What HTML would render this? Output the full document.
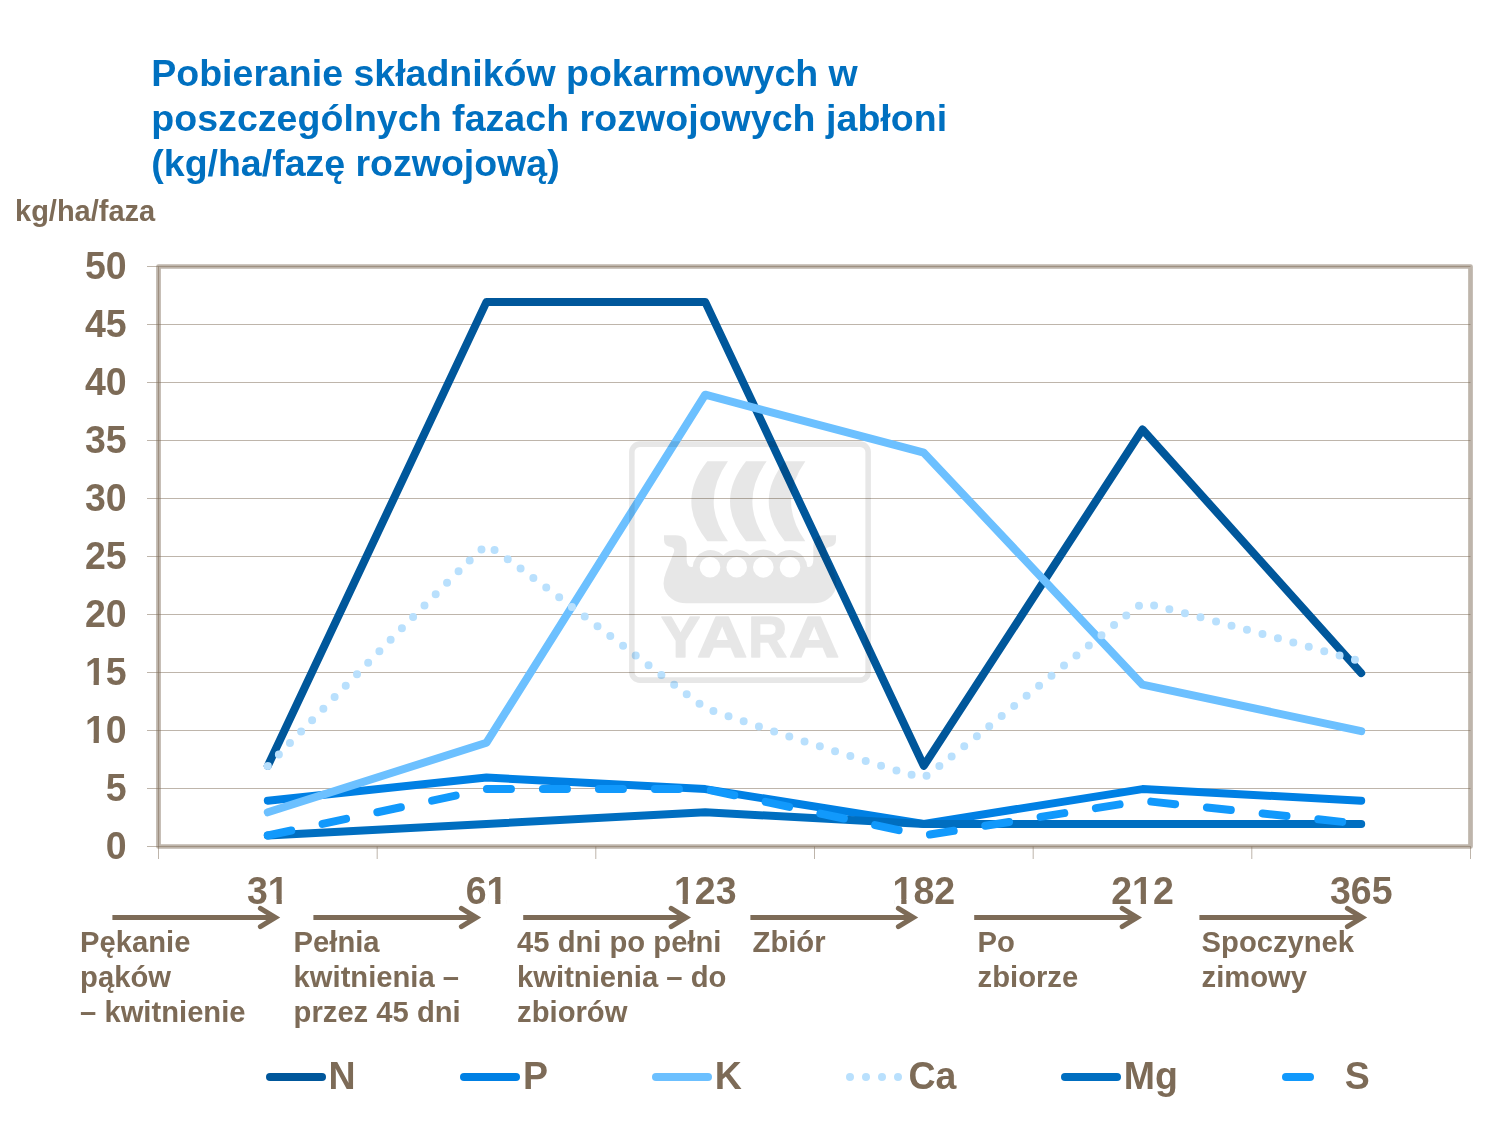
<!DOCTYPE html>
<html lang="pl"><head><meta charset="utf-8"><title>Pobieranie składników pokarmowych</title>
<style>
html,body{margin:0;padding:0;background:#fff}
body{width:1500px;height:1125px;position:relative;overflow:hidden;font-family:"Liberation Sans",sans-serif;font-weight:bold}
svg{position:absolute;left:0;top:0}
svg text{font-family:"Liberation Sans",sans-serif;font-weight:bold}
.title{position:absolute;left:151.3px;top:51.2px;margin:0;font-size:37.5px;line-height:45px;color:#0070c0;white-space:nowrap}
.unit{position:absolute;left:15px;top:193.5px;font-size:29px;line-height:34.8px;color:#7d6b57;white-space:nowrap}
.lbl{position:absolute;top:925.2px;font-size:29.2px;line-height:35px;color:#7d6b57;white-space:nowrap}
</style></head><body>
<h1 class="title">Pobieranie składników pokarmowych w<br><span style="letter-spacing:0.05px">poszczególnych fazach rozwojowych jabłoni</span><br>(kg/ha/fazę rozwojową)</h1>
<div class="unit">kg/ha/faza</div>

<svg width="1500" height="1125" viewBox="0 0 1500 1125">
<rect x="158.5" y="266.5" width="1312.0" height="580.0" fill="none" stroke="#7d6b57" stroke-opacity="0.5" stroke-width="4.7" stroke-linejoin="round"/>
<g stroke="#7d6b57" stroke-width="1" stroke-opacity="0.5"><line x1="147" y1="846.5" x2="1470.5" y2="846.5"/><line x1="147" y1="788.5" x2="1470.5" y2="788.5"/><line x1="147" y1="730.5" x2="1470.5" y2="730.5"/><line x1="147" y1="672.5" x2="1470.5" y2="672.5"/><line x1="147" y1="614.5" x2="1470.5" y2="614.5"/><line x1="147" y1="556.5" x2="1470.5" y2="556.5"/><line x1="147" y1="498.5" x2="1470.5" y2="498.5"/><line x1="147" y1="440.5" x2="1470.5" y2="440.5"/><line x1="147" y1="382.5" x2="1470.5" y2="382.5"/><line x1="147" y1="324.5" x2="1470.5" y2="324.5"/><line x1="147" y1="266.5" x2="1470.5" y2="266.5"/><line x1="158.5" y1="266.5" x2="158.5" y2="846.5"/><line x1="158.5" y1="846.5" x2="158.5" y2="859"/><line x1="377.2" y1="846.5" x2="377.2" y2="859"/><line x1="595.8" y1="846.5" x2="595.8" y2="859"/><line x1="814.5" y1="846.5" x2="814.5" y2="859"/><line x1="1033.2" y1="846.5" x2="1033.2" y2="859"/><line x1="1251.8" y1="846.5" x2="1251.8" y2="859"/><line x1="1470.5" y1="846.5" x2="1470.5" y2="859"/></g>
<g font-size="37.5" fill="#7d6b57"><text transform="translate(126.6,859.1) scale(1,1.04)" text-anchor="end">0</text><text transform="translate(126.6,801.1) scale(1,1.04)" text-anchor="end">5</text><text transform="translate(126.6,743.1) scale(1,1.04)" text-anchor="end">10</text><text transform="translate(126.6,685.1) scale(1,1.04)" text-anchor="end">15</text><text transform="translate(126.6,627.1) scale(1,1.04)" text-anchor="end">20</text><text transform="translate(126.6,569.1) scale(1,1.04)" text-anchor="end">25</text><text transform="translate(126.6,511.1) scale(1,1.04)" text-anchor="end">30</text><text transform="translate(126.6,453.1) scale(1,1.04)" text-anchor="end">35</text><text transform="translate(126.6,395.1) scale(1,1.04)" text-anchor="end">40</text><text transform="translate(126.6,337.1) scale(1,1.04)" text-anchor="end">45</text><text transform="translate(126.6,279.1) scale(1,1.04)" text-anchor="end">50</text><text transform="translate(267.8,903.5) scale(1,1.04)" text-anchor="middle">31</text><text transform="translate(486.5,903.5) scale(1,1.04)" text-anchor="middle">61</text><text transform="translate(705.2,903.5) scale(1,1.04)" text-anchor="middle">123</text><text transform="translate(923.8,903.5) scale(1,1.04)" text-anchor="middle">182</text><text transform="translate(1142.5,903.5) scale(1,1.04)" text-anchor="middle">212</text><text transform="translate(1361.2,903.5) scale(1,1.04)" text-anchor="middle">365</text></g>
<g fill="#fff"><rect x="86.69" y="738.85" width="6.90" height="5"/><rect x="98.84" y="738.85" width="6.45" height="5"/><rect x="86.69" y="680.85" width="6.90" height="5"/><rect x="98.84" y="680.85" width="6.45" height="5"/><rect x="269.63" y="899.25" width="6.90" height="5"/><rect x="281.78" y="899.25" width="6.45" height="5"/><rect x="488.30" y="899.25" width="6.90" height="5"/><rect x="500.45" y="899.25" width="6.45" height="5"/><rect x="675.68" y="899.25" width="6.90" height="5"/><rect x="687.83" y="899.25" width="6.45" height="5"/><rect x="894.35" y="899.25" width="6.90" height="5"/><rect x="906.50" y="899.25" width="6.45" height="5"/><rect x="1133.87" y="899.25" width="6.90" height="5"/><rect x="1146.02" y="899.25" width="6.45" height="5"/></g>
<polyline points="267.8,765.9 486.5,301.9 705.2,301.9 923.8,765.9 1142.5,429.5 1361.2,673.1" fill="none" stroke="#00579b" stroke-width="8" stroke-linecap="round" stroke-linejoin="round"/>
<polyline points="267.8,800.7 486.5,777.5 705.2,789.1 923.8,823.9 1142.5,789.1 1361.2,800.7" fill="none" stroke="#0080e4" stroke-width="8" stroke-linecap="round" stroke-linejoin="round"/>
<polyline points="267.8,812.3 486.5,742.7 705.2,394.7 923.8,452.7 1142.5,684.7 1361.2,731.1" fill="none" stroke="#6cc0ff" stroke-width="8" stroke-linecap="round" stroke-linejoin="round"/>
<path d="M267.8,765.9 C271.1,762.6 479.9,546.4 486.5,545.5 C493.1,544.6 698.6,704.4 705.2,707.9 C711.7,711.4 917.3,779.1 923.8,777.5 C930.4,775.9 1135.9,605.2 1142.5,603.5 C1149.1,601.8 1357.9,660.6 1361.2,661.5" fill="none" stroke="#b9e0fd" stroke-width="8" stroke-linecap="round" stroke-dasharray="0 16"/>
<polyline points="267.8,835.5 486.5,823.9 705.2,812.3 923.8,823.9 1142.5,823.9 1361.2,823.9" fill="none" stroke="#006ec0" stroke-width="8" stroke-linecap="round" stroke-linejoin="round"/>
<polyline points="267.8,835.5 486.5,789.1 705.2,789.1 923.8,835.5 1142.5,800.7 1361.2,823.9" fill="none" stroke="#1199fc" stroke-width="8" stroke-linecap="round" stroke-linejoin="round" stroke-dasharray="24 32"/>
<g fill="#000" opacity="0.09">
<rect x="631.85" y="444.1" width="236.3" height="236.05" rx="8" ry="8" fill="none" stroke="#000" stroke-width="5.6"/>
<g id="sails">
<path d="M707.3,461.3 L728,461.3 Q699.4,501.3 728,541.3 L707.3,541.3 Q675.3,501.3 707.3,461.3Z"/>
<path d="M746,461.3 L766.7,461.3 Q738.1,501.3 766.7,541.3 L746,541.3 Q714,501.3 746,461.3Z"/>
<path d="M784.7,461.3 L805.4,461.3 Q776.8,501.3 805.4,541.3 L784.7,541.3 Q752.7,501.3 784.7,461.3Z"/>
</g>
<path fill-rule="evenodd" d="M664,535.3 L676,535.3 Q686.7,535.3 686.7,547 L686.7,560 Q687,568 692.7,566.7
A18,18 0 0 1 723.35,555.3 A18,18 0 0 1 750,555.3 A18,18 0 0 1 776.65,555.3 A18,18 0 0 1 807.3,566.7
Q813,568 813.3,560 L813.3,547 Q813.3,535.3 824,535.3 L836,535.3 L836,540 Q836,546 829,547 Q825,548 826,552
L834,572 Q841,590 828,599 Q822,603.3 814,603.3 L686,603.3 Q678,603.3 672,599 Q659,590 666,572 L674,552 Q675,548 671,547 Q664,546 664,540 Z
M720.3,567.3 a10.3,10.3 0 1 0 -20.6,0 a10.3,10.3 0 1 0 20.6,0Z
M747,567.3 a10.3,10.3 0 1 0 -20.6,0 a10.3,10.3 0 1 0 20.6,0Z
M773.6,567.3 a10.3,10.3 0 1 0 -20.6,0 a10.3,10.3 0 1 0 20.6,0Z
M800.3,567.3 a10.3,10.3 0 1 0 -20.6,0 a10.3,10.3 0 1 0 20.6,0Z"/>
<g font-size="56.5" stroke="#000" stroke-width="1.6" stroke-linejoin="round"><text transform="translate(660.96,656.5) scale(1.041,1)">Y</text><text transform="translate(696.9,656.5) scale(1.234,1)">A</text><text transform="translate(748.3,656.5) scale(0.952,1)">R</text><text transform="translate(788.9,656.5) scale(1.234,1)">A</text></g>
</g>
<g fill="none" stroke="#7d6b57" stroke-width="5" stroke-linejoin="miter"><path d="M112.4,917.5 H274.2"/><path stroke-linecap="round" d="M260.4,908.4 L275.4,917.5 L260.4,926.6"/><path d="M313.4,917.5 H475.2"/><path stroke-linecap="round" d="M461.4,908.4 L476.4,917.5 L461.4,926.6"/><path d="M523.2,917.5 H685.0"/><path stroke-linecap="round" d="M671.2,908.4 L686.2,917.5 L671.2,926.6"/><path d="M750.4,917.5 H912.2"/><path stroke-linecap="round" d="M898.4,908.4 L913.4,917.5 L898.4,926.6"/><path d="M974.2,917.5 H1136.0"/><path stroke-linecap="round" d="M1122.2,908.4 L1137.2,917.5 L1122.2,926.6"/><path d="M1199.4,917.5 H1361.2"/><path stroke-linecap="round" d="M1347.4,908.4 L1362.4,917.5 L1347.4,926.6"/></g>
<line x1="270.0" y1="1077" x2="322.0" y2="1077" stroke="#00579b" stroke-width="8" stroke-linecap="round"/><text transform="translate(328.4,1089) scale(1,1.04)" font-size="37.5" fill="#7d6b57">N</text><line x1="464.0" y1="1077" x2="516.0" y2="1077" stroke="#0080e4" stroke-width="8" stroke-linecap="round"/><text transform="translate(522.9,1089) scale(1,1.04)" font-size="37.5" fill="#7d6b57">P</text><line x1="656.0" y1="1077" x2="708.0" y2="1077" stroke="#6cc0ff" stroke-width="8" stroke-linecap="round"/><text transform="translate(714.7,1089) scale(1,1.04)" font-size="37.5" fill="#7d6b57">K</text><line x1="850.0" y1="1077" x2="902.0" y2="1077" stroke="#b9e0fd" stroke-width="8" stroke-linecap="round" stroke-dasharray="0 16"/><text transform="translate(908.4,1089) scale(1,1.04)" font-size="37.5" fill="#7d6b57">Ca</text><line x1="1065.0" y1="1077" x2="1117.0" y2="1077" stroke="#006ec0" stroke-width="8" stroke-linecap="round"/><text transform="translate(1123.7,1089) scale(1,1.04)" font-size="37.5" fill="#7d6b57">Mg</text><line x1="1286.0" y1="1077" x2="1310.0" y2="1077" stroke="#1199fc" stroke-width="8" stroke-linecap="round"/><text transform="translate(1344.7,1089) scale(1,1.04)" font-size="37.5" fill="#7d6b57">S</text>
</svg>
<div class="lbl" style="left:80.1px">Pękanie<br>pąków<br>– kwitnienie</div>
<div class="lbl" style="left:293.6px">Pełnia<br>kwitnienia –<br>przez 45 dni</div>
<div class="lbl" style="left:517.1px">45 dni po pełni<br>kwitnienia – do<br>zbiorów</div>
<div class="lbl" style="left:752.6px">Zbiór</div>
<div class="lbl" style="left:977.6px">Po<br>zbiorze</div>
<div class="lbl" style="left:1201.6px">Spoczynek<br>zimowy</div>
</body></html>
